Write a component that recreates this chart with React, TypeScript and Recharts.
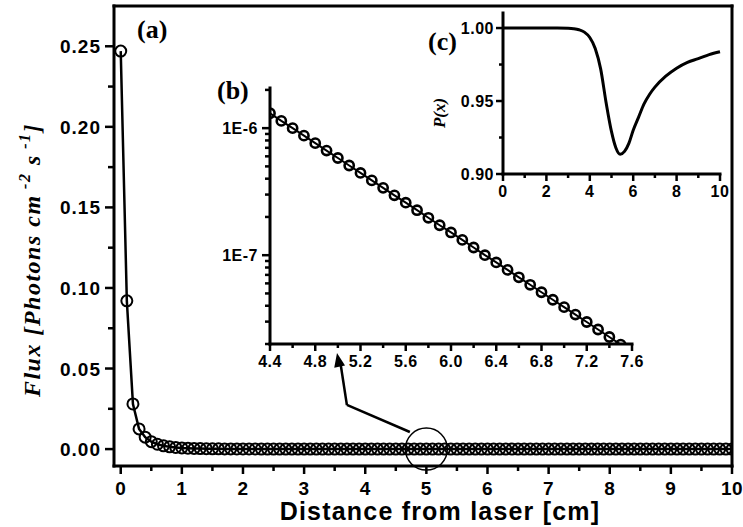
import React from 'react';
import { LineChart, Line, XAxis, YAxis, ReferenceDot, ReferenceLine } from 'recharts';

// main panel (a): flux vs distance, 0..10 cm in 0.1 cm steps
const distance = [
  0, 0.1, 0.2, 0.3, 0.4, 0.5, 0.6, 0.7, 0.8, 0.9,
  1, 1.1, 1.2, 1.3, 1.4, 1.5, 1.6, 1.7, 1.8, 1.9,
  2, 2.1, 2.2, 2.3, 2.4, 2.5, 2.6, 2.7, 2.8, 2.9,
  3, 3.1, 3.2, 3.3, 3.4, 3.5, 3.6, 3.7, 3.8, 3.9,
  4, 4.1, 4.2, 4.3, 4.4, 4.5, 4.6, 4.7, 4.8, 4.9,
  5, 5.1, 5.2, 5.3, 5.4, 5.5, 5.6, 5.7, 5.8, 5.9,
  6, 6.1, 6.2, 6.3, 6.4, 6.5, 6.6, 6.7, 6.8, 6.9,
  7, 7.1, 7.2, 7.3, 7.4, 7.5, 7.6, 7.7, 7.8, 7.9,
  8, 8.1, 8.2, 8.3, 8.4, 8.5, 8.6, 8.7, 8.8, 8.9,
  9, 9.1, 9.2, 9.3, 9.4, 9.5, 9.6, 9.7, 9.8, 9.9,
  10,
];

const flux = [
  0.247, 0.092, 0.028, 0.0125, 0.0074, 0.0046, 0.003, 0.002, 0.0014, 0.001,
  7.2e-4, 5.4e-4, 4.1e-4, 3.1e-4, 2.4e-4, 1.85e-4, 1.44e-4, 1.13e-4, 8.9e-5, 7.0e-5,
  5.6e-5, 4.5e-5, 3.6e-5, 2.9e-5, 2.35e-5, 1.9e-5, 1.55e-5, 1.27e-5, 1.04e-5, 8.6e-6,
  7.1e-6, 5.9e-6, 4.9e-6, 4.1e-6, 3.45e-6, 2.9e-6, 2.6e-6, 2.35e-6, 2.15e-6, 1.97e-6,
  1.81e-6, 1.67e-6, 1.54e-6, 1.42e-6, 1.31e-6, 1.14e-6, 1.0e-6, 8.73e-7, 7.62e-7, 6.66e-7,
  5.82e-7, 5.08e-7, 4.44e-7, 3.88e-7, 3.39e-7, 2.96e-7, 2.59e-7, 2.26e-7, 1.97e-7, 1.72e-7,
  1.51e-7, 1.32e-7, 1.15e-7, 1.0e-7, 8.77e-8, 7.66e-8, 6.7e-8, 5.85e-8, 5.11e-8, 4.46e-8,
  3.9e-8, 3.41e-8, 2.98e-8, 2.6e-8, 2.27e-8, 1.98e-8, 1.73e-8, 1.51e-8, 1.32e-8, 1.15e-8,
  1.0e-8, 8.8e-9, 7.7e-9, 6.7e-9, 5.85e-9, 5.1e-9, 4.5e-9, 3.9e-9, 3.4e-9, 3.0e-9,
  2.6e-9, 2.3e-9, 2.0e-9, 1.75e-9, 1.5e-9, 1.33e-9, 1.16e-9, 1.0e-9, 8.8e-10, 7.7e-10,
  6.7e-10,
];

// zoomed range shown in inset (b)
const insetBFrom = 4.4;
const insetBTo = 7.5;

// inset (c): P(x)
const probX = [0, 0.5, 1, 1.5, 2, 2.5, 3, 3.25, 3.5, 3.75, 4, 4.25, 4.5, 4.75, 5, 5.2, 5.4, 5.6, 5.8, 6, 6.25, 6.5, 6.75, 7, 7.5, 8, 8.5, 9, 9.5, 10];
const probValue = [1, 1, 1, 1, 1, 1, 0.9998, 0.9995, 0.9988, 0.9972, 0.9935, 0.986, 0.972, 0.949, 0.929, 0.918, 0.9135, 0.9155, 0.921, 0.93, 0.939, 0.948, 0.9545, 0.9595, 0.967, 0.9725, 0.9765, 0.979, 0.9818, 0.9838];

const mainXTicks = [0, 0.5, 1, 1.5, 2, 2.5, 3, 3.5, 4, 4.5, 5, 5.5, 6, 6.5, 7, 7.5, 8, 8.5, 9, 9.5, 10];
const mainYTicks = [0, 0.025, 0.05, 0.075, 0.1, 0.125, 0.15, 0.175, 0.2, 0.225, 0.25];
const insetBXTicks = [4.4, 4.6, 4.8, 5.0, 5.2, 5.4, 5.6, 5.8, 6.0, 6.2, 6.4, 6.6, 6.8, 7.0, 7.2, 7.4, 7.6];
const insetBYTicks = [2e-8, 3e-8, 4e-8, 5e-8, 6e-8, 7e-8, 8e-8, 9e-8, 1e-7, 2e-7, 3e-7, 4e-7, 5e-7, 6e-7, 7e-7, 8e-7, 9e-7, 1e-6, 2e-6];
const insetCXTicks = [0, 1, 2, 3, 4, 5, 6, 7, 8, 9, 10];
const insetCYTicks = [0.9, 0.925, 0.95, 0.975, 1.0];

const mainData = distance.map((x, i) => ({ x, flux: flux[i] }));
const insetBData = mainData.filter(d => d.x >= insetBFrom - 1e-9 && d.x <= insetBTo + 1e-9);
const probData = probX.map((x, i) => ({ x, p: probValue[i] }));

const SANS = '"Liberation Sans", Arial, sans-serif';
const SERIF = '"Liberation Serif", "Times New Roman", serif';
const AXIS = { stroke: '#000', strokeWidth: 3, strokeLinecap: 'square' as const };

const MainXTick = ({ x, y, payload }: any) => {
  const major = Number.isInteger(payload.value);
  return (
    <g>
      <line x1={x} y1={y} x2={x} y2={y + (major ? 8 : 5)} stroke="#000" strokeWidth={2.5} />
      {major && (
        <text x={x} y={y + 29} textAnchor="middle" fontFamily={SANS} fontWeight="bold" fontSize={19} letterSpacing={0.5} fill="#000">
          {payload.value}
        </text>
      )}
    </g>
  );
};

const MainYTick = ({ x, y, payload, index }: any) => {
  const major = index % 2 === 0;
  return (
    <g>
      <line x1={x} y1={y} x2={x - (major ? 9 : 6)} y2={y} stroke="#000" strokeWidth={2.5} />
      {major && (
        <text x={x - 13} y={y + 7} textAnchor="end" fontFamily={SANS} fontWeight="bold" fontSize={19} letterSpacing={1} fill="#000">
          {payload.value.toFixed(2)}
        </text>
      )}
    </g>
  );
};

const RightTick = ({ x, y }: any) => (
  <line x1={x} y1={y} x2={x - 5} y2={y} stroke="#000" strokeWidth={2.5} />
);

const InsetBXTick = ({ x, y, payload, index }: any) => {
  const major = index % 2 === 0;
  return (
    <g>
      <line x1={x} y1={y} x2={x} y2={y + (major ? 7 : 4)} stroke="#000" strokeWidth={2.5} />
      {major && (
        <text x={x} y={y + 23} textAnchor="middle" fontFamily={SANS} fontWeight="bold" fontSize={16} letterSpacing={0.5} fill="#000">
          {payload.value.toFixed(1)}
        </text>
      )}
    </g>
  );
};

const InsetBYTick = ({ x, y, payload }: any) => {
  const exp = Math.log10(payload.value);
  const major = Math.abs(exp - Math.round(exp)) < 1e-6;
  return (
    <g>
      <line x1={x} y1={y} x2={x - (major ? 8 : 5)} y2={y} stroke="#000" strokeWidth={2.5} />
      {major && (
        <text x={x - 12} y={y + 6} textAnchor="end" fontFamily={SANS} fontWeight="bold" fontSize={16} letterSpacing={0.5} fill="#000">
          {`1E${Math.round(exp)}`}
        </text>
      )}
    </g>
  );
};

const InsetCXTick = ({ x, y, payload, index }: any) => {
  const major = index % 2 === 0;
  return (
    <g>
      <line x1={x} y1={y} x2={x} y2={y + (major ? 7 : 4)} stroke="#000" strokeWidth={2.5} />
      {major && (
        <text x={x} y={y + 23} textAnchor="middle" fontFamily={SANS} fontWeight="bold" fontSize={16} letterSpacing={0.5} fill="#000">
          {payload.value}
        </text>
      )}
    </g>
  );
};

const InsetCYTick = ({ x, y, payload, index }: any) => {
  const major = index % 2 === 0;
  return (
    <g>
      <line x1={x} y1={y} x2={x - (major ? 7 : 4)} y2={y} stroke="#000" strokeWidth={2.5} />
      {major && (
        <text x={x - 9} y={y + 6} textAnchor="end" fontFamily={SANS} fontWeight="bold" fontSize={16} letterSpacing={0.5} fill="#000">
          {payload.value.toFixed(2)}
        </text>
      )}
    </g>
  );
};

// arrow head pointing from the callout circle up to inset (b)
const ArrowHead = ({ cx, cy }: any) => {
  const dx = -0.189, dy = -0.982; // direction of the last arrow segment
  const len = 14, half = 5.5;
  const bx = cx - dx * len, by = cy - dy * len;
  const px = -dy, py = dx;
  return (
    <polygon
      points={`${cx},${cy} ${bx + px * half},${by + py * half} ${bx - px * half},${by - py * half}`}
      fill="#000"
    />
  );
};

const layer: React.CSSProperties = { position: 'absolute', left: 0, top: 0 };

export default function App() {
  return (
    <div style={{ position: 'absolute', left: 0, top: 0, width: 743, height: 527, background: '#fff' }}>
      {/* (a) main panel */}
      <div style={layer}>
        <LineChart width={743} height={527} data={mainData} margin={{ top: 5, right: 10, bottom: 60, left: 113 }}>
          <XAxis type="number" dataKey="x" domain={[-0.11, 10]} ticks={mainXTicks} interval={0} height={1}
            tickSize={0} tickMargin={0} tickLine={false} axisLine={AXIS} tick={<MainXTick />} allowDataOverflow />
          <XAxis xAxisId="top" orientation="top" type="number" domain={[-0.11, 10]} height={1}
            tick={false} tickLine={false} axisLine={AXIS} />
          <YAxis type="number" domain={[-0.0105, 0.275]} ticks={mainYTicks} interval={0} width={1}
            tickSize={0} tickMargin={0} tickLine={false} axisLine={AXIS} tick={<MainYTick />} allowDataOverflow />
          <YAxis yAxisId="right" orientation="right" type="number" domain={[-0.0105, 0.275]} ticks={mainYTicks}
            interval={0} width={1} tickSize={0} tickMargin={0} tickLine={false} axisLine={AXIS} tick={<RightTick />} />
          <Line type="linear" dataKey="flux" stroke="#000" strokeWidth={2.5} isAnimationActive={false}
            dot={{ r: 5.5, fill: 'none', stroke: '#000', strokeWidth: 2 }} activeDot={false} />
          <ReferenceDot x={5} y={0} r={21} fill="none" stroke="#000" strokeWidth={1.5} ifOverflow="visible" />
          <ReferenceLine segment={[{ x: 4.73, y: 0.0106 }, { x: 3.70, y: 0.0274 }]} stroke="#000" strokeWidth={2.5} ifOverflow="visible" />
          <ReferenceLine segment={[{ x: 3.70, y: 0.0274 }, { x: 3.60, y: 0.052 }]} stroke="#000" strokeWidth={2.5} ifOverflow="visible" />
          <ReferenceDot x={3.538} y={0.0597} shape={<ArrowHead />} ifOverflow="visible" />
        </LineChart>
      </div>

      {/* (b) log inset */}
      <div style={layer}>
        <LineChart width={743} height={527} data={insetBData} margin={{ top: 88, right: 111, bottom: 182, left: 269 }}>
          <XAxis type="number" dataKey="x" domain={[4.4, 7.6]} ticks={insetBXTicks} interval={0} height={1}
            tickSize={0} tickMargin={0} tickLine={false} axisLine={AXIS} tick={<InsetBXTick />} allowDataOverflow />
          <YAxis type="number" scale="log" domain={[2e-8, 2.07e-6]} ticks={insetBYTicks} interval={0} width={1}
            tickSize={0} tickMargin={0} tickLine={false} axisLine={AXIS} tick={<InsetBYTick />} allowDataOverflow />
          <Line type="linear" dataKey="flux" stroke="#000" strokeWidth={2} isAnimationActive={false}
            dot={{ r: 4.6, fill: 'none', stroke: '#000', strokeWidth: 2.6 }} activeDot={false} />
        </LineChart>
      </div>

      {/* (c) P(x) inset */}
      <div style={layer}>
        <LineChart width={743} height={527} data={probData} margin={{ top: 13, right: 23, bottom: 352, left: 502 }}>
          <XAxis type="number" dataKey="x" domain={[0, 10]} ticks={insetCXTicks} interval={0} height={1}
            tickSize={0} tickMargin={0} tickLine={false} axisLine={AXIS} tick={<InsetCXTick />} />
          <YAxis type="number" domain={[0.9, 1.0103]} ticks={insetCYTicks} interval={0} width={1}
            tickSize={0} tickMargin={0} tickLine={false} axisLine={AXIS} tick={<InsetCYTick />} allowDataOverflow />
          <Line type="monotone" dataKey="p" stroke="#000" strokeWidth={3} dot={false} activeDot={false} isAnimationActive={false} />
        </LineChart>
      </div>

      {/* titles and panel labels */}
      <svg width={743} height={527} style={{ ...layer, pointerEvents: 'none' }}>
        <text x={137} y={38} fontFamily={SERIF} fontWeight="bold" fontSize={26}>(a)</text>
        <text x={217} y={99} fontFamily={SERIF} fontWeight="bold" fontSize={26}>(b)</text>
        <text x={428} y={50} fontFamily={SERIF} fontWeight="bold" fontSize={26}>(c)</text>
        <text transform="translate(445,113) rotate(-90)" textAnchor="middle" fontFamily={SERIF} fontStyle="italic" fontWeight="bold" fontSize={17}>P(x)</text>
        <text x={440} y={520} textAnchor="middle" fontFamily={SANS} fontWeight="bold" fontSize={25} letterSpacing={1.2}>Distance from laser [cm]</text>
        <text transform="translate(40,260) rotate(-90)" textAnchor="middle" fontFamily={SERIF} fontStyle="italic" fontWeight="bold" fontSize={24} letterSpacing={1.5}>
          Flux [Photons cm<tspan dy={-10} fontSize={16}> -2</tspan><tspan dy={10}> s</tspan><tspan dy={-10} fontSize={16}> -1</tspan><tspan dy={10}>]</tspan>
        </text>
      </svg>
    </div>
  );
}
